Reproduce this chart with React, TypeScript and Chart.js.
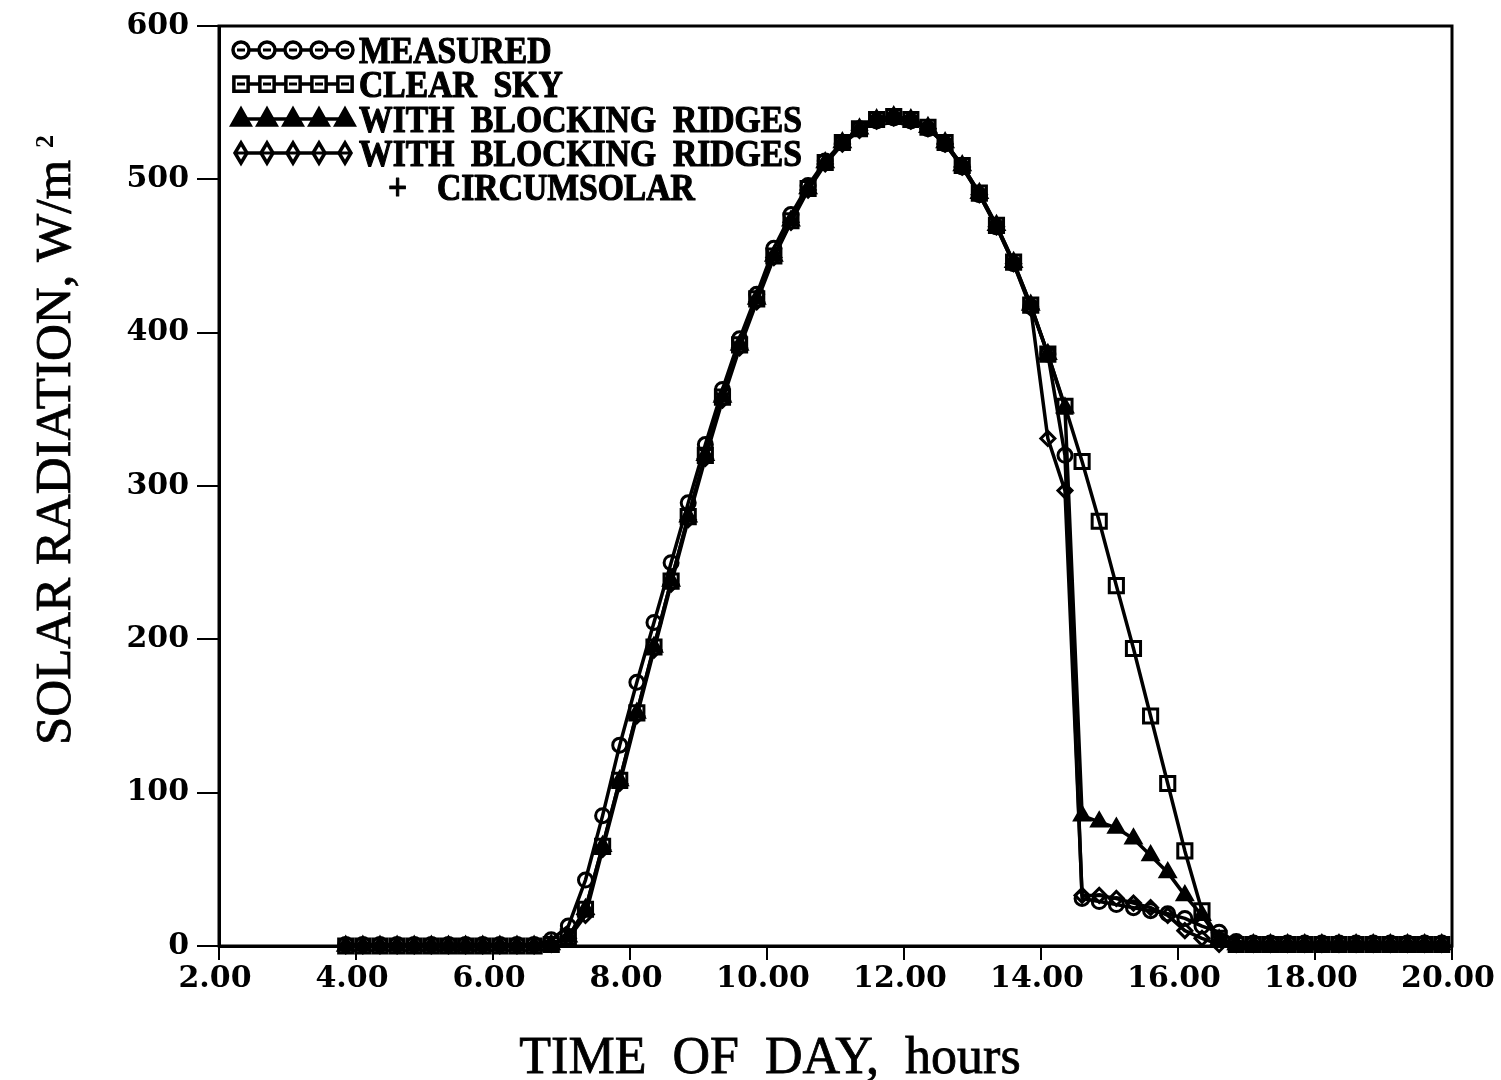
import { useEffect, useRef } from "react";
import { Chart, registerables } from "chart.js";

Chart.register(...registerables);

// time of day (hours), 15-minute samples
const hours = [
  3.85, 4.1, 4.35, 4.6, 4.85, 5.1, 5.35, 5.6, 5.85, 6.1, 6.35, 6.6, 6.85,
  7.1, 7.35, 7.6, 7.85, 8.1, 8.35, 8.6, 8.85, 9.1, 9.35, 9.6, 9.85,
  10.1, 10.35, 10.6, 10.85, 11.1, 11.35, 11.6, 11.85, 12.1, 12.35, 12.6, 12.85,
  13.1, 13.35, 13.6, 13.85, 14.1, 14.35, 14.6, 14.85, 15.1, 15.35, 15.6, 15.85,
  16.1, 16.35, 16.6, 16.85, 17.1, 17.35, 17.6, 17.85, 18.1, 18.35, 18.6, 18.85,
  19.1, 19.35, 19.6, 19.85,
];

const measured = [
  1, 1, 1, 1, 1, 1, 1, 1, 1, 1, 1, 1, 4,
  13, 43, 85, 131, 172, 211, 250, 289, 327, 363, 396, 425,
  455, 477, 496, 512, 524, 533, 538, 540, 538, 533, 523, 508,
  490, 469, 445, 417, 386, 320, 31, 29, 27, 25, 23, 21,
  18, 13, 9, 3, 2, 2, 2, 2, 2, 2, 2, 2,
  2, 2, 2, 2,
];

const clearSky = [
  0, 0, 0, 0, 0, 0, 0, 0, 0, 0, 0, 0, 1,
  6, 24, 65, 108, 152, 195, 238, 280, 320, 358, 392, 422,
  450, 473, 494, 511, 524, 533, 539, 541, 539, 534, 524, 509,
  491, 470, 446, 418, 386, 352, 316, 277, 235, 194, 150, 106,
  62, 23, 5, 1, 1, 1, 1, 1, 1, 1, 1, 1,
  1, 1, 1, 1,
];

const blockingRidges = [
  0, 0, 0, 0, 0, 0, 0, 0, 0, 0, 0, 0, 1,
  6, 24, 65, 108, 152, 195, 238, 280, 320, 358, 392, 422,
  450, 473, 494, 511, 524, 533, 539, 541, 539, 534, 524, 509,
  491, 470, 446, 418, 386, 351, 85, 81, 77, 70, 59, 48,
  33, 20, 4, 1, 1, 1, 1, 1, 1, 1, 1, 1,
  1, 1, 1, 1,
];

const ridgesCircumsolar = [
  0, 0, 0, 0, 0, 0, 0, 0, 0, 0, 0, 0, 1,
  5, 20, 63, 106, 150, 193, 236, 278, 318, 356, 390, 420,
  449, 472, 493, 510, 523, 532, 538, 540, 538, 533, 523, 508,
  490, 469, 445, 416, 331, 297, 33, 33, 31, 28, 25, 20,
  10, 5, 1, 1, 1, 1, 1, 1, 1, 1, 1, 1,
  1, 1, 1, 1,
];

const xTickValues = [2, 4, 6, 8, 10, 12, 14, 16, 18, 20];
const yTickValues = [0, 100, 200, 300, 400, 500, 600];

const legendLabels = ["MEASURED", "CLEAR  SKY", "WITH  BLOCKING  RIDGES", "WITH  BLOCKING  RIDGES"];
const legendExtra = ["+", "CIRCUMSOLAR"];
const xTitle = "TIME  OF  DAY,  hours";
const yTitle = "SOLAR RADIATION, W/m";
const yTitleSup = "2";

const INK = "#000";

function drawMarker(ctx: CanvasRenderingContext2D, style: string, x: number, y: number, r: number) {
  ctx.beginPath();
  if (style === "circle") {
    ctx.arc(x, y, r, 0, Math.PI * 2);
    ctx.stroke();
  } else if (style === "rect") {
    ctx.rect(x - r * 0.75, y - r * 0.75, r * 1.5, r * 1.5);
    ctx.stroke();
  } else if (style === "triangle") {
    ctx.moveTo(x, y - r);
    ctx.lineTo(x + r * 0.9, y + r * 0.6);
    ctx.lineTo(x - r * 0.9, y + r * 0.6);
    ctx.closePath();
    ctx.fill();
    ctx.stroke();
  } else if (style === "rectRot") {
    ctx.moveTo(x, y - r);
    ctx.lineTo(x + r * 0.6, y);
    ctx.lineTo(x, y + r);
    ctx.lineTo(x - r * 0.6, y);
    ctx.closePath();
    ctx.stroke();
  }
}

function boldText(ctx: CanvasRenderingContext2D, text: string, x: number, y: number, sx: number) {
  ctx.save();
  ctx.translate(x, y);
  ctx.scale(sx, 1);
  ctx.lineWidth = 1.2;
  ctx.lineJoin = "round";
  ctx.fillText(text, 0, 0);
  ctx.strokeText(text, 0, 0);
  ctx.restore();
}

const overlayPlugin = {
  id: "overlay",
  afterDraw(chart: any) {
    const ctx: CanvasRenderingContext2D = chart.ctx;
    const a = chart.chartArea;
    ctx.save();
    // frame
    ctx.strokeStyle = INK;
    ctx.lineWidth = 3;
    ctx.strokeRect(a.left, a.top, a.right - a.left, a.bottom - a.top);

    // legend
    const styles = ["circle", "rect", "triangle", "rectRot"];
    const rowsY = [50, 84, 119, 153];
    ctx.fillStyle = INK;
    ctx.strokeStyle = INK;
    for (let i = 0; i < 4; i++) {
      const y = rowsY[i];
      ctx.lineWidth = 3.5;
      ctx.beginPath();
      ctx.moveTo(241, y);
      ctx.lineTo(345, y);
      ctx.stroke();
      for (let k = 0; k < 5; k++) {
        const x = 241 + 26 * k;
        ctx.lineWidth = 3.5;
        if (styles[i] !== "triangle") {
          ctx.fillStyle = "#fff";
          ctx.beginPath();
          if (styles[i] === "circle") ctx.arc(x, y, 8, 0, Math.PI * 2);
          else if (styles[i] === "rect") ctx.rect(x - 7, y - 7, 14, 14);
          else {
            ctx.moveTo(x, y - 10); ctx.lineTo(x + 7, y); ctx.lineTo(x, y + 10); ctx.lineTo(x - 7, y); ctx.closePath();
          }
          ctx.fill();
          ctx.fillStyle = INK;
        }
        drawMarker(ctx, styles[i], x, y, styles[i] === "circle" ? 8 : styles[i] === "rect" ? 9.5 : 10);
        ctx.beginPath();
        ctx.lineWidth = 3;
        ctx.moveTo(x - 4, y);
        ctx.lineTo(x + 4, y);
        ctx.stroke();
      }
      ctx.fillStyle = INK;
      ctx.font = 'bold 38px "Liberation Serif", serif';
      ctx.textBaseline = "alphabetic";
      ctx.textAlign = "left";
      boldText(ctx, legendLabels[i], 359, y + 13, 0.885);
    }
    ctx.font = 'bold 38px "Liberation Serif", serif';
    boldText(ctx, legendExtra[0], 388, 187 + 13, 0.885);
    boldText(ctx, legendExtra[1], 437, 187 + 13, 0.885);

    // x title
    ctx.font = '52px "Liberation Serif", serif';
    ctx.textAlign = "center";
    ctx.textBaseline = "alphabetic";
    ctx.lineWidth = 0.8;
    ctx.fillText(xTitle, 770, 1073);
    ctx.strokeText(xTitle, 770, 1073);

    // y title
    ctx.save();
    ctx.translate(70, 745);
    ctx.rotate(-Math.PI / 2);
    ctx.font = '51px "Liberation Serif", serif';
    ctx.textAlign = "left";
    const w = ctx.measureText(yTitle).width;
    ctx.fillText(yTitle, 0, 0);
    ctx.strokeText(yTitle, 0, 0);
    ctx.font = 'bold 26px "Liberation Serif", serif';
    ctx.fillText(yTitleSup, w + 12, -17);
    ctx.restore();

    ctx.restore();
  },
};

export default function App() {
  const ref = useRef<HTMLCanvasElement | null>(null);
  useEffect(() => {
    document.body.style.margin = "0";
    const canvas = ref.current!;
    const mk = (vals: number[]) => hours.map((h, i) => ({ x: h, y: vals[i] }));
    const common = {
      borderColor: INK,
      borderWidth: 3.5,
      pointBorderColor: INK,
      pointBorderWidth: 3,
      tension: 0,
      clip: false as any,
    };
    const tickFont = { family: '"DejaVu Serif", serif', size: 30, weight: "bold" as const };
    const chart = new Chart(canvas, {
      type: "line",
      data: {
        datasets: [
          { ...common, label: "CLEAR SKY", data: mk(clearSky), pointStyle: "rect", pointRadius: 10, pointBackgroundColor: "rgba(0,0,0,0)" },
          { ...common, label: "WITH BLOCKING RIDGES", data: mk(blockingRidges), pointStyle: "triangle", pointRadius: 8.5, pointBackgroundColor: INK },
          { ...common, label: "WITH BLOCKING RIDGES + CIRCUMSOLAR", data: mk(ridgesCircumsolar), pointStyle: "rectRot", pointRadius: 7, pointBackgroundColor: "rgba(0,0,0,0)" },
          { ...common, label: "MEASURED", data: mk(measured), pointStyle: "circle", pointRadius: 7, pointBackgroundColor: "rgba(0,0,0,0)" },
        ],
      },
      options: {
        responsive: false,
        animation: false,
        devicePixelRatio: 1,
        layout: { padding: { top: 22, right: 49, left: 0, bottom: 0 } },
        plugins: { legend: { display: false }, tooltip: { enabled: false } },
        elements: { line: { borderJoinStyle: "round" as const } },
        scales: {
          x: {
            type: "linear",
            min: 2,
            max: 20,
            afterBuildTicks: (scale: any) => {
              scale.ticks = xTickValues.map((v) => ({ value: v }));
            },
            afterFit: (scale: any) => {
              scale.height = 134;
            },
            ticks: {
              color: INK,
              font: tickFont,
              padding: 1,
              maxRotation: 0,
              autoSkip: false,
              labelOffset: -4,
              callback: (v: any) => Number(v).toFixed(2),
            },
            grid: { drawOnChartArea: false, drawTicks: true, tickLength: 14, color: INK, lineWidth: 2 },
            border: { display: true, color: INK, width: 3 },
          },
          y: {
            type: "linear",
            min: 0,
            max: 600,
            afterBuildTicks: (scale: any) => {
              scale.ticks = yTickValues.map((v) => ({ value: v }));
            },
            afterFit: (scale: any) => {
              scale.width = 219;
            },
            ticks: {
              color: INK,
              font: tickFont,
              padding: 8,
              autoSkip: false,
              callback: (v: any) => String(v),
            },
            grid: { drawOnChartArea: false, drawTicks: true, tickLength: 22, color: INK, lineWidth: 2 },
            border: { display: true, color: INK, width: 3 },
          },
        },
      },
      plugins: [overlayPlugin],
    });
    return () => chart.destroy();
  }, []);
  return <canvas ref={ref} width={1501} height={1080} style={{ display: "block" }} />;
}
